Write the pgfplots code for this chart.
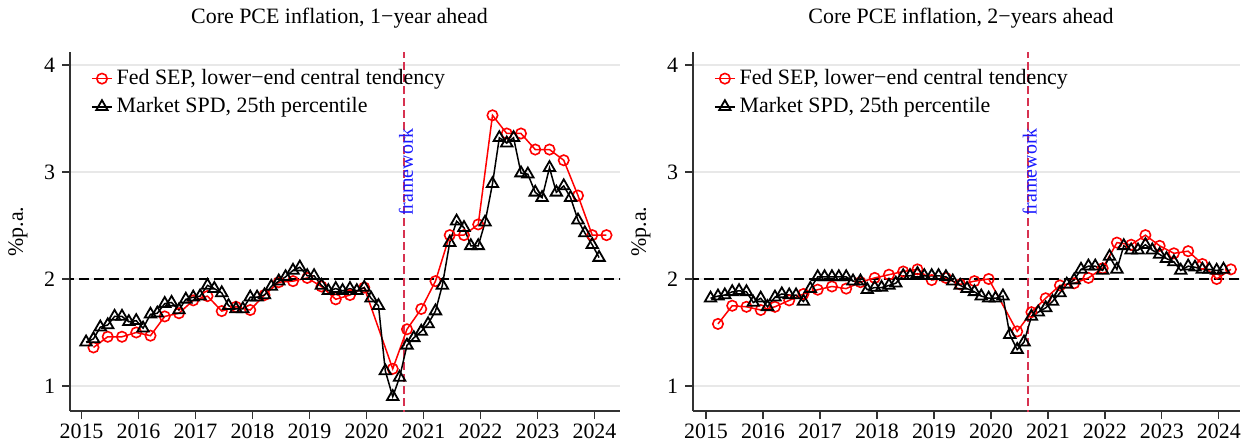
\documentclass[border=0pt]{standalone}
\usepackage{fontspec}
\setmainfont{Liberation Serif}
\usepackage{pgfplots}
\pgfplotsset{compat=1.18}

\definecolor{fedred}{RGB}{255,0,0}
\definecolor{fwline}{RGB}{215,50,80}
\definecolor{fwtext}{RGB}{25,25,255}
\definecolor{gridgray}{RGB}{232,232,232}
\definecolor{axisgray}{RGB}{50,50,50}

\pgfplotsset{
  pce panel/.style={
    scale only axis,
    height=179.4bp,
    ymin=0.766, ymax=4.12,
    axis x line*=bottom,
    axis y line*=left,
    axis line style={axisgray, line width=0.6bp},
    tick align=outside,
    major tick length=4bp,
    tick style={axisgray, line width=0.6bp},
    xtick={2015,...,2024},
    ytick={1,2,3,4},
    ymajorgrids=true,
    grid style={gridgray, line width=0.6bp},
    /pgf/number format/assume math mode=true,
    x tick label style={/pgf/number format/1000 sep={}, yshift=1bp},
    tick label style={font=\fontsize{11}{12}\selectfont},
    title style={font=\fontsize{11}{13}\selectfont, at={(axis description cs:0.49,1)}, anchor=center, yshift=11bp},
    ylabel={\%p.a.},
    every axis y label/.style={at={(axis description cs:0,0.5)}, xshift=-26bp, rotate=90, anchor=center, font=\fontsize{11}{13}\selectfont},
    legend style={
      at={(axis description cs:0.027,0.975)},
      anchor=north west,
      draw=none, fill=none,
      font=\fontsize{11}{13}\selectfont,
      row sep=1bp,
    },
    legend cell align=left,
    legend image code/.code={
      \draw[mark repeat=2, mark phase=2, #1] plot coordinates {(0bp,0bp) (5bp,0bp) (10bp,0bp)};
    },
  },
  sep/.style={fedred, line width=0.75bp, mark=o, mark size=2.6bp, mark options={solid, fill=white, line width=0.8bp}},
  spd/.style={black, line width=0.75bp, mark=triangle, mark size=3.3bp, mark options={solid, fill=white, line width=0.9bp}},
}

\begin{document}
\begin{tikzpicture}
\path[use as bounding box] (-35bp,-16.5bp) rectangle (587bp,205.5bp);

% 1-year ahead
\begin{axis}[
  pce panel,
  width=275bp,
  xmin=2014.798, xmax=2024.447,
  title={Core PCE inflation, 1−year ahead},
]
\addplot[black, dash pattern=on 5bp off 2.5bp, line width=0.6bp, forget plot] coordinates {(2014.7,2) (2024.5,2)};
\addplot[fwline, dash pattern=on 4bp off 2bp, line width=0.7bp, forget plot] coordinates {(2020.655,0.7) (2020.655,4.2)};
\node[rotate=90, text=fwtext, font=\fontsize{10}{12}\selectfont] at (axis cs:2020.69,3.0) {framework};
\addplot[sep] coordinates {
 (2015.21,1.36) (2015.46,1.46) (2015.71,1.46) (2015.96,1.50)
 (2016.21,1.47) (2016.46,1.65) (2016.71,1.68) (2016.96,1.80)
 (2017.21,1.84) (2017.46,1.70) (2017.71,1.74) (2017.96,1.71)
 (2018.21,1.85) (2018.46,1.97) (2018.71,1.98) (2018.96,2.01)
 (2019.21,1.93) (2019.46,1.81) (2019.71,1.85) (2019.96,1.92)
 (2020.46,1.16) (2020.71,1.53) (2020.96,1.72)
 (2021.21,1.98) (2021.46,2.41) (2021.71,2.41) (2021.96,2.51)
 (2022.21,3.53) (2022.46,3.36) (2022.71,3.36) (2022.96,3.21)
 (2023.21,3.21) (2023.46,3.11) (2023.71,2.78) (2023.96,2.41)
 (2024.21,2.41)
};
\addlegendentry{Fed SEP, lower−end central tendency}
\addplot[spd] coordinates {
 (2015.08,1.41) (2015.21,1.44) (2015.33,1.55) (2015.46,1.57) (2015.58,1.65) (2015.71,1.65) (2015.83,1.60) (2015.96,1.61)
 (2016.08,1.54) (2016.21,1.67) (2016.33,1.68) (2016.46,1.77) (2016.58,1.78) (2016.71,1.71) (2016.83,1.81) (2016.96,1.83)
 (2017.08,1.84) (2017.21,1.94) (2017.33,1.91) (2017.46,1.87) (2017.58,1.75) (2017.71,1.72) (2017.83,1.72) (2017.96,1.83)
 (2018.08,1.83) (2018.21,1.85) (2018.33,1.93) (2018.46,1.98) (2018.58,2.02) (2018.71,2.08) (2018.83,2.11) (2018.96,2.03)
 (2019.08,2.03) (2019.21,1.94) (2019.33,1.89) (2019.46,1.91) (2019.58,1.89) (2019.71,1.91) (2019.83,1.89) (2019.96,1.92)
 (2020.08,1.82) (2020.21,1.75) (2020.33,1.14) (2020.46,0.90) (2020.58,1.08) (2020.71,1.38) (2020.83,1.45) (2020.96,1.51)
 (2021.08,1.58) (2021.21,1.70) (2021.33,1.94) (2021.46,2.34) (2021.58,2.54) (2021.71,2.48) (2021.83,2.31) (2021.96,2.31)
 (2022.08,2.53) (2022.21,2.89) (2022.33,3.32) (2022.46,3.27) (2022.58,3.32) (2022.71,2.99) (2022.83,2.98) (2022.96,2.81)
 (2023.08,2.76) (2023.21,3.04) (2023.33,2.81) (2023.46,2.87) (2023.58,2.76) (2023.71,2.55) (2023.83,2.43) (2023.96,2.32)
 (2024.08,2.20)
};
\addlegendentry{Market SPD, 25th percentile}
\end{axis}

% 2-years ahead
\begin{axis}[
  pce panel,
  at={(311.5bp,0bp)},
  width=273.5bp,
  xmin=2014.772, xmax=2024.37,
  title={Core PCE inflation, 2−years ahead},
]
\addplot[black, dash pattern=on 5bp off 2.5bp, line width=0.6bp, forget plot] coordinates {(2014.7,2) (2024.5,2)};
\addplot[fwline, dash pattern=on 4bp off 2bp, line width=0.7bp, forget plot] coordinates {(2020.65,0.7) (2020.65,4.2)};
\node[rotate=90, text=fwtext, font=\fontsize{10}{12}\selectfont] at (axis cs:2020.68,3.0) {framework};
\addplot[sep] coordinates {
 (2015.21,1.58) (2015.46,1.75) (2015.71,1.74) (2015.96,1.71)
 (2016.21,1.74) (2016.46,1.80) (2016.71,1.86) (2016.96,1.90)
 (2017.21,1.93) (2017.46,1.91) (2017.71,1.97) (2017.96,2.01)
 (2018.21,2.04) (2018.46,2.07) (2018.71,2.09) (2018.96,1.99)
 (2019.21,2.01) (2019.46,1.95) (2019.71,1.98) (2019.96,2.00)
 (2020.46,1.51) (2020.71,1.69) (2020.96,1.82)
 (2021.21,1.94) (2021.46,1.96) (2021.71,2.01) (2021.96,2.10)
 (2022.21,2.34) (2022.46,2.32) (2022.71,2.41) (2022.96,2.31)
 (2023.21,2.24) (2023.46,2.26) (2023.71,2.14) (2023.96,2.00)
 (2024.21,2.09)
};
\addlegendentry{Fed SEP, lower−end central tendency}
\addplot[spd] coordinates {
 (2015.08,1.82) (2015.21,1.84) (2015.33,1.85) (2015.46,1.88) (2015.58,1.89) (2015.71,1.88) (2015.83,1.78) (2015.96,1.82)
 (2016.08,1.74) (2016.21,1.83) (2016.33,1.86) (2016.46,1.85) (2016.58,1.85) (2016.71,1.79) (2016.83,1.91) (2016.96,2.02)
 (2017.08,2.02) (2017.21,2.02) (2017.33,2.02) (2017.46,2.02) (2017.58,1.98) (2017.71,1.98) (2017.83,1.90) (2017.96,1.92)
 (2018.08,1.92) (2018.21,1.94) (2018.33,1.96) (2018.46,2.03) (2018.58,2.03) (2018.71,2.05) (2018.83,2.03) (2018.96,2.03)
 (2019.08,2.03) (2019.21,2.02) (2019.33,1.98) (2019.46,1.94) (2019.58,1.91) (2019.71,1.88) (2019.83,1.84) (2019.96,1.82)
 (2020.08,1.82) (2020.21,1.84) (2020.33,1.48) (2020.46,1.34) (2020.58,1.41) (2020.71,1.65) (2020.83,1.69) (2020.96,1.73)
 (2021.08,1.79) (2021.21,1.87) (2021.33,1.95) (2021.46,1.99) (2021.58,2.09) (2021.71,2.12) (2021.83,2.12) (2021.96,2.08)
 (2022.08,2.21) (2022.21,2.09) (2022.33,2.31) (2022.46,2.27) (2022.58,2.27) (2022.71,2.32) (2022.83,2.27) (2022.96,2.23)
 (2023.08,2.19) (2023.21,2.16) (2023.33,2.08) (2023.46,2.12) (2023.58,2.11) (2023.71,2.09) (2023.83,2.09) (2023.96,2.08)
 (2024.08,2.09)
};
\addlegendentry{Market SPD, 25th percentile}
\end{axis}
\end{tikzpicture}
\end{document}
